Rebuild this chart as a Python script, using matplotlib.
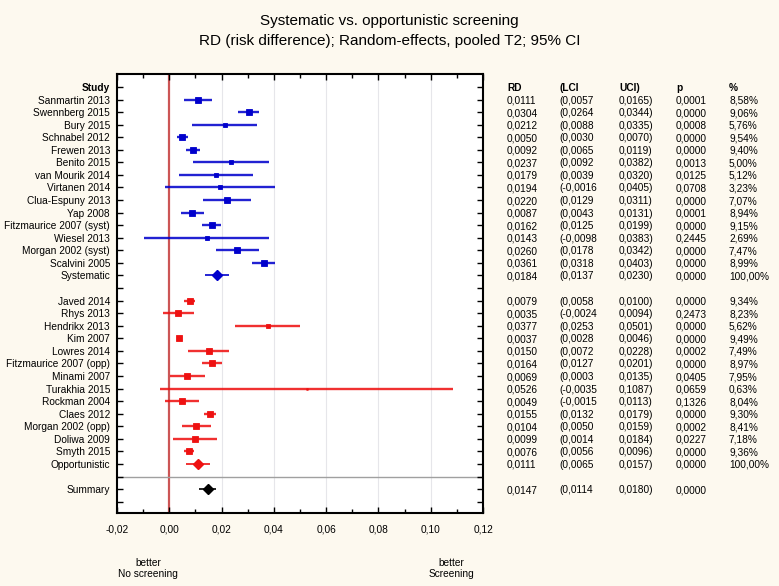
import matplotlib
matplotlib.use("Agg")
import matplotlib.pyplot as plt
import matplotlib.transforms as mtransforms
import numpy as np

plt.rcParams['font.family'] = ['Liberation Sans', 'DejaVu Sans']

# data (risk difference, 95% CI, p, weight %)
syst_names = ["Sanmartin 2013", "Swennberg 2015", "Bury 2015", "Schnabel 2012", "Frewen 2013",
              "Benito 2015", "van Mourik 2014", "Virtanen 2014", "Clua-Espuny 2013", "Yap 2008",
              "Fitzmaurice 2007 (syst)", "Wiesel 2013", "Morgan 2002 (syst)", "Scalvini 2005"]
syst_rd = [0.0111, 0.0304, 0.0212, 0.0050, 0.0092, 0.0237, 0.0179, 0.0194, 0.0220, 0.0087, 0.0162, 0.0143, 0.0260, 0.0361]
syst_lci = [0.0057, 0.0264, 0.0088, 0.0030, 0.0065, 0.0092, 0.0039, -0.0016, 0.0129, 0.0043, 0.0125, -0.0098, 0.0178, 0.0318]
syst_uci = [0.0165, 0.0344, 0.0335, 0.0070, 0.0119, 0.0382, 0.0320, 0.0405, 0.0311, 0.0131, 0.0199, 0.0383, 0.0342, 0.0403]
syst_p = [0.0001, 0.0000, 0.0008, 0.0000, 0.0000, 0.0013, 0.0125, 0.0708, 0.0000, 0.0001, 0.0000, 0.2445, 0.0000, 0.0000]
syst_w = [8.58, 9.06, 5.76, 9.54, 9.40, 5.00, 5.12, 3.23, 7.07, 8.94, 9.15, 2.69, 7.47, 8.99]
syst_pool = [0.0184, 0.0137, 0.0230, 0.0000, 100.00]

opp_names = ["Javed 2014", "Rhys 2013", "Hendrikx 2013", "Kim 2007", "Lowres 2014",
             "Fitzmaurice 2007 (opp)", "Minami 2007", "Turakhia 2015", "Rockman 2004", "Claes 2012",
             "Morgan 2002 (opp)", "Doliwa 2009", "Smyth 2015"]
opp_rd = [0.0079, 0.0035, 0.0377, 0.0037, 0.0150, 0.0164, 0.0069, 0.0526, 0.0049, 0.0155, 0.0104, 0.0099, 0.0076]
opp_lci = [0.0058, -0.0024, 0.0253, 0.0028, 0.0072, 0.0127, 0.0003, -0.0035, -0.0015, 0.0132, 0.0050, 0.0014, 0.0056]
opp_uci = [0.0100, 0.0094, 0.0501, 0.0046, 0.0228, 0.0201, 0.0135, 0.1087, 0.0113, 0.0179, 0.0159, 0.0184, 0.0096]
opp_p = [0.0000, 0.2473, 0.0000, 0.0000, 0.0002, 0.0000, 0.0405, 0.0659, 0.1326, 0.0000, 0.0002, 0.0227, 0.0000]
opp_w = [9.34, 8.23, 5.62, 9.49, 7.49, 8.97, 7.95, 0.63, 8.04, 9.30, 8.41, 7.18, 9.36]
opp_pool = [0.0111, 0.0065, 0.0157, 0.0000, 100.00]

summary = [0.0147, 0.0114, 0.0180, 0.0000]

xticks = [-0.02, 0.00, 0.02, 0.04, 0.06, 0.08, 0.10, 0.12]
xticklabels = ["-0,02", "0,00", "0,02", "0,04", "0,06", "0,08", "0,10", "0,12"]

BG = '#FDF9EF'
BLUE = '#0000CC'
RED = '#EE1111'
FS = 7.3

def fmt(v):
    return ("%.4f" % v).replace('.', ',')

def fmtw(v):
    return ("%.2f%%" % v).replace('.', ',')

fig = plt.figure(figsize=(7.79, 5.86), dpi=100, facecolor=BG)
ax = fig.add_axes([117/779, 1-513/586, 366/779, (513-74)/586])
ax.set_facecolor('white')

# row positions
n_s = len(syst_names)
n_o = len(opp_names)
rows_s = np.arange(1, n_s+1)
row_sp = n_s + 1
rows_o = np.arange(row_sp+2, row_sp+2+n_o)
row_op = rows_o[-1] + 1
row_sum = row_op + 2
n_rows = row_sum + 2

# grid and reference lines
for g in [0.02, 0.04, 0.06, 0.08, 0.10]:
    ax.axvline(g, color='#E6E6EA', lw=0.8, zorder=0)
ax.axvline(0, color='#CC5555', lw=1.6, zorder=1)
ax.axhline(row_op + 1, color='#A0A0A0', lw=1.0, zorder=1)

def draw_group(rows, rd, lci, uci, w, color):
    for r, m, lo, hi, ww in zip(rows, rd, lci, uci, w):
        ax.plot([lo, hi], [r, r], color=color, lw=2.6, alpha=0.2, solid_capstyle='butt', zorder=2)
        ax.plot([lo, hi], [r, r], color=color, lw=1.2, solid_capstyle='butt', zorder=3)
        side = 1.9 * np.sqrt(ww) * 0.72
        ax.plot(m, r, marker='s', ms=side, color=color, mec=color, mew=0.6, zorder=4)

def draw_pool(r, vals, color):
    ax.plot([vals[1], vals[2]], [r, r], color=color, lw=1.2, solid_capstyle='butt', zorder=3)
    ax.plot(vals[0], r, marker='D', ms=5.5, color=color, mec=color, zorder=4)

draw_group(rows_s, syst_rd, syst_lci, syst_uci, syst_w, BLUE)
draw_pool(row_sp, syst_pool, BLUE)
draw_group(rows_o, opp_rd, opp_lci, opp_uci, opp_w, RED)
draw_pool(row_op, opp_pool, RED)
draw_pool(row_sum, summary, 'black')

ax.set_xlim(-0.02, 0.12)
ax.set_ylim(n_rows - 0.1, -1.03)

# y labels
labels = [""] * n_rows
labels[0] = "Study"
for r, nm in zip(rows_s, syst_names):
    labels[r] = nm
labels[row_sp] = "Systematic"
for r, nm in zip(rows_o, opp_names):
    labels[r] = nm
labels[row_op] = "Opportunistic"
labels[row_sum] = "Summary"
ax.set_yticks(np.arange(n_rows))
ax.set_yticklabels(labels, fontsize=FS)
ax.get_yticklabels()[0].set_fontweight('bold')

ax.set_xticks(xticks)
ax.set_xticklabels(xticklabels, fontsize=FS)
ax.set_xticks(np.arange(-0.02, 0.121, 0.01), minor=True)
ax.tick_params(axis='both', which='both', direction='in', top=True, right=True, width=1.0)
ax.tick_params(axis='x', which='major', length=4, pad=8)
ax.tick_params(axis='x', which='minor', length=3)
ax.tick_params(axis='y', length=4, pad=5)
for s in ax.spines.values():
    s.set_linewidth(1.5)

# table on the right
tr = mtransforms.blended_transform_factory(fig.transFigure, ax.transData)
cols = [507, 559, 619, 676, 729]
heads = ["RD", "(LCI", "UCI)", "p", "%"]
for cx, h in zip(cols, heads):
    ax.text(cx/779, 0, h, transform=tr, fontsize=FS, fontweight='bold', va='center_baseline', ha='left', clip_on=False)

def table_row(r, rd, lo, hi, p, w=None):
    vals = [fmt(rd), "(" + fmt(lo), fmt(hi) + ")", fmt(p)]
    if w is not None:
        vals.append(fmtw(w))
    for cx, v in zip(cols, vals):
        ax.text(cx/779, r, v, transform=tr, fontsize=FS, va='center_baseline', ha='left', clip_on=False)

for i, r in enumerate(rows_s):
    table_row(r, syst_rd[i], syst_lci[i], syst_uci[i], syst_p[i], syst_w[i])
table_row(row_sp, *syst_pool)
for i, r in enumerate(rows_o):
    table_row(r, opp_rd[i], opp_lci[i], opp_uci[i], opp_p[i], opp_w[i])
table_row(row_op, *opp_pool)
table_row(row_sum, *summary)

# titles
fig.text(0.5, 1-21/586, "Systematic vs. opportunistic screening", ha='center', va='center', fontsize=11)
fig.text(0.5, 1-41/586, "RD (risk difference); Random-effects, pooled T2; 95% CI", ha='center', va='center', fontsize=11)

# direction labels
fig.text(148/779, 1-563/586, "better", ha='center', va='center', fontsize=FS)
fig.text(148/779, 1-574/586, "No screening", ha='center', va='center', fontsize=FS)
fig.text(451/779, 1-563/586, "better", ha='center', va='center', fontsize=FS)
fig.text(451/779, 1-574/586, "Screening", ha='center', va='center', fontsize=FS)

fig.savefig("out.png", dpi=100, facecolor=BG)
